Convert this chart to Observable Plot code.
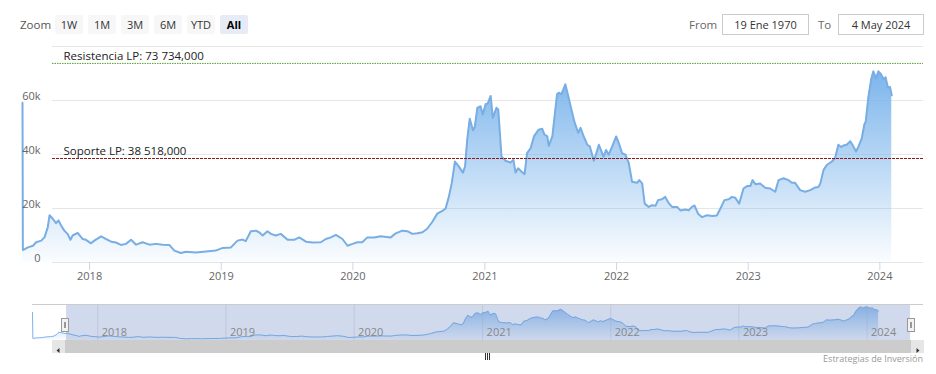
<!DOCTYPE html>
<html><head><meta charset="utf-8">
<script src="https://cdn.jsdelivr.net/npm/d3@7"></script>
<script src="https://cdn.jsdelivr.net/npm/@observablehq/plot@0.6"></script>
<style>
body{margin:0;background:#fff;}
#wrap{position:relative;width:936px;height:374px;font-family:"Open Sans",sans-serif;overflow:hidden;background:#fff;}
.a{position:absolute;}
.btn{position:absolute;top:15px;height:19px;width:28px;background:#f7f7f7;color:#333;font-size:11px;line-height:19px;text-align:center;border-radius:2px;}
.btn.sel{background:#e6ebf5;color:#000;font-weight:bold;}
.lbl{position:absolute;top:15px;line-height:19px;font-size:11.5px;color:#666;}
.inp{position:absolute;top:14px;height:19px;border:1px solid #ccc;font-size:11px;line-height:19px;color:#333;text-align:center;}
</style></head>
<body><div id="wrap"></div>
<script>
// ---- data ----
const dates = ["2017-06-29","2017-06-30","2017-07-14","2017-07-28","2017-08-06","2017-08-20","2017-08-29","2017-09-07","2017-09-12","2017-09-21","2017-09-30","2017-10-07","2017-10-14","2017-10-23","2017-11-02","2017-11-09","2017-11-15","2017-11-29","2017-12-13","2017-12-22",
"2018-01-05","2018-01-14","2018-02-02","2018-02-16","2018-03-02","2018-03-15","2018-03-29","2018-04-12","2018-04-26","2018-05-10","2018-05-28","2018-06-16","2018-07-04","2018-07-23","2018-08-10","2018-08-24","2018-09-11","2018-09-25","2018-10-23","2018-11-20","2018-12-17",
"2019-01-05","2019-01-28","2019-02-15","2019-03-01","2019-03-10","2019-03-24","2019-04-07","2019-04-16","2019-04-26","2019-05-09","2019-05-19","2019-06-01","2019-06-15","2019-07-04","2019-07-22","2019-08-05","2019-08-24","2019-09-11","2019-10-04","2019-10-18","2019-11-01","2019-11-15","2019-12-03","2019-12-17","2019-12-31",
"2020-01-14","2020-01-27","2020-02-10","2020-02-29","2020-03-18","2020-04-15","2020-04-29","2020-05-17","2020-05-31","2020-06-14","2020-06-28","2020-07-12","2020-07-25","2020-08-08","2020-08-22","2020-09-05","2020-09-14","2020-09-23","2020-10-01","2020-10-10","2020-10-21","2020-11-01","2020-11-07","2020-11-13","2020-11-20","2020-11-29","2020-12-04","2020-12-11","2020-12-20","2020-12-26",
"2021-01-03","2021-01-09","2021-01-17","2021-01-23","2021-02-02","2021-02-07","2021-02-16","2021-02-27","2021-03-13","2021-03-21","2021-03-27","2021-04-03","2021-04-13","2021-04-21","2021-04-28","2021-05-08","2021-05-17","2021-05-30","2021-06-09","2021-06-15","2021-06-23","2021-06-27","2021-07-07","2021-07-20","2021-07-25","2021-08-01","2021-08-12","2021-08-20","2021-08-31","2021-09-07","2021-09-17","2021-09-23","2021-10-02","2021-10-12","2021-10-19","2021-10-30","2021-11-06","2021-11-13","2021-11-22","2021-11-26","2021-12-03","2021-12-10","2021-12-20","2021-12-31",
"2022-01-09","2022-01-16","2022-01-26","2022-02-04","2022-02-13","2022-02-27","2022-03-05","2022-03-13","2022-03-20","2022-03-31","2022-04-09","2022-04-19","2022-04-26","2022-05-07","2022-05-16","2022-05-25","2022-06-04","2022-06-18","2022-06-27","2022-07-11","2022-07-20","2022-07-29","2022-08-05","2022-08-15","2022-08-26","2022-09-09","2022-09-23","2022-10-06","2022-10-16","2022-10-27","2022-11-08","2022-11-17","2022-11-26","2022-12-07","2022-12-19","2022-12-29",
"2023-01-07","2023-01-13","2023-01-21","2023-02-03","2023-02-17","2023-03-03","2023-03-17","2023-03-26","2023-04-09","2023-04-23","2023-05-02","2023-05-11","2023-05-25","2023-06-08","2023-06-22","2023-07-06","2023-07-15","2023-07-20","2023-07-29","2023-08-07","2023-08-21","2023-08-30","2023-09-08","2023-09-16","2023-09-22","2023-10-01","2023-10-11","2023-10-17","2023-10-27","2023-11-03","2023-11-12","2023-11-19","2023-11-23","2023-11-30","2023-12-08","2023-12-14","2023-12-21","2023-12-28",
"2024-01-04","2024-01-11","2024-01-17","2024-01-23","2024-01-29","2024-02-03"];
const prices = [59200,4600,5600,6200,7500,8100,9300,13000,17500,16200,14600,15600,13700,11800,10400,8400,10000,11000,8700,8400,
7100,8100,9700,8700,7700,7400,6500,6900,8400,6600,7500,6600,6900,6600,6500,4400,3500,4000,3700,4100,4400,
5400,5600,8100,8500,7900,11600,11800,11200,10000,11600,10600,10000,10600,8400,8400,9300,7700,7400,7500,8700,9300,10200,8700,6200,6900,
7500,7500,9300,9300,9700,9300,10800,11800,11600,10600,10800,11200,12500,15000,18100,19100,20000,24300,29300,37400,35500,33300,35500,45500,53200,49000,50200,57300,57900,54800,
58600,58900,61700,53600,57300,56700,39200,37700,37000,38000,33300,34900,33600,32700,40500,42400,46700,49200,49500,47400,46700,43200,46700,62300,62900,62300,66000,61700,55500,51700,48000,49900,46700,43600,43000,37700,40500,43600,40500,39200,41700,39900,43000,46700,
43600,40500,39900,36800,29900,29500,30500,29300,21800,20600,21200,21000,23100,23400,24300,22100,20600,20600,19300,19600,19300,20600,21100,18100,16800,17500,17200,17400,20000,23100,23400,24300,24000,21800,27400,28300,
28300,30500,29000,29300,27700,27400,26200,30500,31200,30500,29500,29500,26800,26200,26800,27800,28000,29300,34300,36100,37400,38700,43600,42800,43300,43600,44900,43600,41100,43000,46100,51100,52300,61100,67900,70800,68200,70800,
69800,67900,68600,64800,65000,61900];
const yTicks = [0, 20000, 40000, 60000];
const gridTicks = [0, 20000, 40000, 60000, 80000];
const yearTicks = ["2018-01-01","2019-01-01","2020-01-01","2021-01-01","2022-01-01","2023-01-01","2024-01-01"];
const levelValues = [73734, 38518];
const levelLabels = ["Resistencia LP: 73 734,000", "Soporte LP: 38 518,000"];
const rangeButtons = ["1W","1M","3M","6M","YTD","All"];
const fromText = "19 Ene 1970", toText = "4 May 2024";
const navSelection = ["2017-10-04", "2024-05-04"];
const creditText = "Estrategias de Inversión";

// ---- build ----
const wrap = document.getElementById("wrap");
const data = dates.map((d, i) => ({date: new Date(d), price: prices[i]}));
const years = yearTicks.map(d => new Date(d));
const levels = levelValues.map((v, i) => ({value: v, label: levelLabels[i]}));

// range selector
const z = document.createElement("div"); z.className = "lbl"; z.style.left = "20px"; z.style.color = "#555"; z.textContent = "Zoom"; wrap.appendChild(z);
rangeButtons.forEach((t, i) => {
  const b = document.createElement("div");
  b.className = "btn" + (t === "All" ? " sel" : "");
  b.style.left = (55 + i * 33) + "px";
  b.textContent = t; wrap.appendChild(b);
});
const f = document.createElement("div"); f.className = "lbl"; f.style.left = "689px"; f.textContent = "From"; wrap.appendChild(f);
const fi = document.createElement("div"); fi.className = "inp"; fi.style.left = "722px"; fi.style.width = "85px"; fi.textContent = fromText; wrap.appendChild(fi);
const t2 = document.createElement("div"); t2.className = "lbl"; t2.style.left = "818px"; t2.textContent = "To"; wrap.appendChild(t2);
const ti = document.createElement("div"); ti.className = "inp"; ti.style.left = "838px"; ti.style.width = "84px"; ti.textContent = toText; wrap.appendChild(ti);

function addGradient(svg, id, op) {
  const g = d3.select(svg).insert("defs", ":first-child").append("linearGradient")
    .attr("id", id).attr("x1", 0).attr("y1", 0).attr("x2", 0).attr("y2", 1);
  g.append("stop").attr("offset", 0).attr("stop-color", "#7cb5ec").attr("stop-opacity", op);
  g.append("stop").attr("offset", 1).attr("stop-color", "#7cb5ec").attr("stop-opacity", 0.03);
}

const main = Plot.plot({
  width: 936, height: 250, marginTop: 6, marginBottom: 28, marginLeft: 22, marginRight: 13,
  style: {fontFamily: "'Open Sans', sans-serif", fontSize: "11px", background: "transparent", overflow: "visible"},
  x: {type: "utc", domain: [new Date("2017-06-29"), new Date("2024-05-01")], axis: null},
  y: {domain: [0, 80000], axis: null},
  marks: [
    Plot.ruleY(gridTicks, {stroke: "#e6e6e6", insetLeft: 30}),
    Plot.areaY(data, {x: "date", y: "price", fill: "url(#areaGrad)"}),
    Plot.lineY(data, {x: "date", y: "price", stroke: "#78aee4", strokeWidth: 2}),
    Plot.ruleY([levels[0]], {y: "value", stroke: "#55a02e", strokeDasharray: "1.5,1", insetLeft: 30}),
    Plot.ruleY([levels[1]], {y: "value", stroke: "#8b1a1a", strokeDasharray: "3,1", insetLeft: 30}),
    Plot.text(levels, {y: "value", text: "label", frameAnchor: "left", dx: 41, dy: -7, textAnchor: "start", fill: "#222", fontSize: 11.5}),
    Plot.axisX({ticks: years, tickFormat: d => String(d.getUTCFullYear()), tickSize: 8, tickPadding: 2, stroke: "#ccd6eb", fill: "#666", anchor: "bottom"}),
    Plot.axisY({ticks: yTicks, tickFormat: d => d === 0 ? "0" : (d / 1000) + "k", tickSize: 0, tickPadding: 0, dx: 18, dy: -4, fill: "#666", anchor: "left"})
  ]
});
addGradient(main, "areaGrad", 1);
main.style.position = "absolute"; main.style.left = "0px"; main.style.top = "40px";
wrap.appendChild(main);

const nav = Plot.plot({
  width: 936, height: 36, marginTop: 0, marginBottom: 0, marginLeft: 32, marginRight: 14,
  style: {fontFamily: "'Open Sans', sans-serif", fontSize: "11px", background: "transparent", overflow: "visible"},
  x: {type: "utc", domain: [new Date("2017-06-29"), new Date("2024-06-07")], axis: null},
  y: {domain: [0, 76000], axis: null},
  marks: [
    Plot.ruleX(years, {stroke: "#e6e6e6"}),
    Plot.areaY(data, {x: "date", y: "price", fill: "url(#navGrad)"}),
    Plot.lineY(data, {x: "date", y: "price", stroke: "#7cb5ec", strokeWidth: 1}),
    Plot.rect([navSelection], {x1: d => new Date(d[0]), x2: d => new Date(d[1]), fill: "rgb(102,133,194)", fillOpacity: 0.3}),
    Plot.text(years, {x: d => d, text: d => String(d.getUTCFullYear()), frameAnchor: "bottom", dx: 4, dy: -5, textAnchor: "start", fill: "#888"}),
    Plot.frame({anchor: "top", stroke: "#cccccc"})
  ]
});
addGradient(nav, "navGrad", 0.8);
nav.style.position = "absolute"; nav.style.left = "0px"; nav.style.top = "304px";
wrap.appendChild(nav);

// scrollbar + handles (navigator chrome)
function box(l, t, w, h, css) { const d = document.createElement("div"); d.className = "a"; d.style.cssText += `left:${l}px;top:${t}px;width:${w}px;height:${h}px;` + css; wrap.appendChild(d); return d; }
box(52, 340, 872, 13, "background:#f2f2f2;");
box(65, 340, 846, 13, "background:#cccccc;");
const lb = box(52, 340, 13, 13, "background:#e6e6e6;");
lb.innerHTML = '<svg width="13" height="13"><path d="M7.5 4 L4.5 6.5 L7.5 9 Z" fill="#333"/></svg>';
const rb = box(911, 340, 13, 13, "background:#e6e6e6;");
rb.innerHTML = '<svg width="13" height="13"><path d="M5.5 4 L8.5 6.5 L5.5 9 Z" fill="#333"/></svg>';
const grip = box(484, 343, 8, 7, "");
grip.innerHTML = '<svg width="8" height="7"><path d="M1.5 0V7M3.5 0V7M5.5 0V7" stroke="#333" stroke-width="1"/></svg>';
[61, 907].forEach(l => {
  const h = box(l, 315, 8, 14, "");
  h.innerHTML = '<svg width="8" height="14"><rect x="0.5" y="0.5" width="7" height="13" fill="#f2f2f2" stroke="#999"/><path d="M3.5 4V10M4.5 4V10" stroke="#999"/></svg>';
});
const cr = document.createElement("div"); cr.className = "a";
cr.style.cssText = "right:13px;top:353px;font-size:9px;color:#999;line-height:12px;";
cr.textContent = creditText; wrap.appendChild(cr);
</script></body></html>
